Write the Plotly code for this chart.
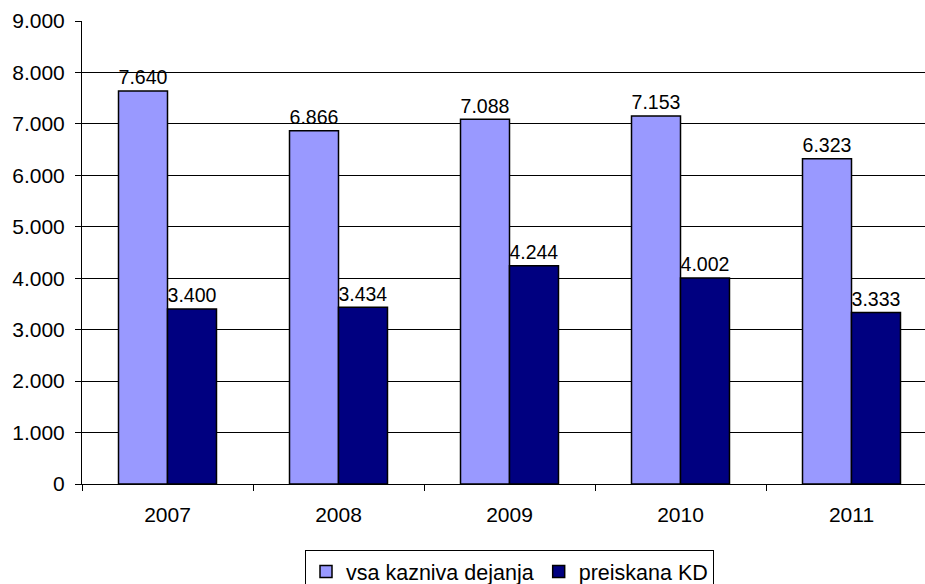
import plotly.graph_objects as go

YEARS = ["2007", "2008", "2009", "2010", "2011"]
VSA_KD = [7640, 6866, 7088, 7153, 6323]
PREISKANA_KD = [3400, 3434, 4244, 4002, 3333]


def fmt(v):
    return f"{v:,}".replace(",", ".")


FONT = "Liberation Sans, Arial, sans-serif"

fig = go.Figure()
fig.add_trace(go.Bar(
    x=YEARS, y=VSA_KD, name="vsa kazniva dejanja",
    marker=dict(color="#9999FF", line=dict(color="black", width=1.5)),
    text=[fmt(v) for v in VSA_KD], textposition="outside",
    textfont=dict(size=21, color="black"), cliponaxis=False,
))
fig.add_trace(go.Bar(
    x=YEARS, y=PREISKANA_KD, name="preiskana KD",
    marker=dict(color="#000080", line=dict(color="black", width=1.5)),
    text=[fmt(v) for v in PREISKANA_KD], textposition="outside",
    textfont=dict(size=21, color="black"), cliponaxis=False,
))

# plot area runs past the right edge of the window, like the original crop
fig.update_layout(
    width=937, height=584,
    barmode="group", bargap=0.427, bargroupgap=0,
    separators=",.",
    font=dict(family=FONT, size=21, color="black"),
    plot_bgcolor="white", paper_bgcolor="white",
    margin=dict(l=82, r=0, t=21, b=100, autoexpand=False),
    showlegend=True,
    legend=dict(
        orientation="h", x=0.5, xanchor="center", y=-0.1425, yanchor="top",
        bordercolor="black", borderwidth=1, font=dict(size=21.5),
        itemwidth=30, tracegroupgap=0,
    ),
    xaxis=dict(
        automargin=False,
        showline=True, linecolor="black", linewidth=1,
        ticks="outside", tickson="boundaries", ticklen=6, tickcolor="black",
        tickfont=dict(size=21), ticklabelstandoff=12,
    ),
    yaxis=dict(
        automargin=False,
        range=[0, 9000], dtick=1000, tickformat=",d",
        showline=True, linecolor="black", linewidth=1,
        showgrid=True, gridcolor="black", gridwidth=1,
        ticks="outside", ticklen=6, tickcolor="black",
        tickfont=dict(size=21), zeroline=False, ticklabelstandoff=6,
    ),
)

fig.write_html(
    "out.html",
    config={"displayModeBar": False},
    post_script="document.body.style.margin='0';document.body.style.overflow='hidden';",
)
